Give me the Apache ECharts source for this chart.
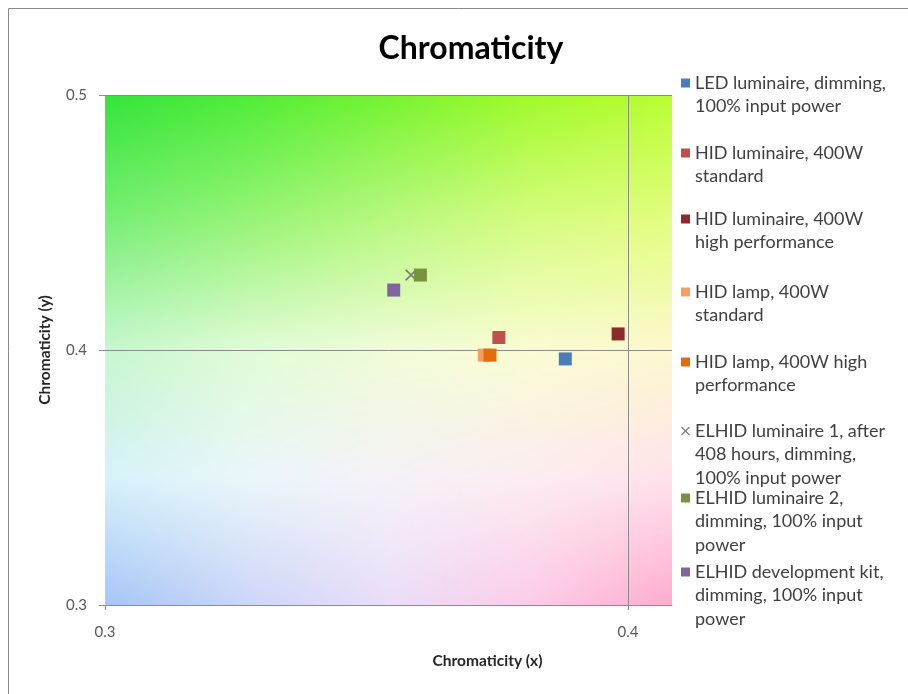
<!DOCTYPE html>
<html>
<head>
<meta charset="utf-8">
<title>Chromaticity</title>
<script src="https://cdn.jsdelivr.net/npm/echarts@6/dist/echarts.min.js"></script>
<style>
  html, body { margin: 0; padding: 0; background: #ffffff; }
  #chart { width: 908px; height: 694px; }
</style>
</head>
<body>
<div id="chart"></div>
<script>
// ---- data ----
const seriesNames = [
  'LED luminaire, dimming,\n100% input power',
  'HID luminaire, 400W\nstandard',
  'HID luminaire, 400W\nhigh performance',
  'HID lamp, 400W\nstandard',
  'HID lamp, 400W high\nperformance',
  'ELHID luminaire 1, after\n408 hours, dimming,\n100% input power',
  'ELHID luminaire 2,\ndimming, 100% input\npower',
  'ELHID development kit,\ndimming, 100% input\npower'
];
const chromaX = [0.3880, 0.3753, 0.3981, 0.3725, 0.3736, 0.3585, 0.3603, 0.3552];
const chromaY = [0.3965, 0.4049, 0.4063, 0.3980, 0.3980, 0.4294, 0.4294, 0.4235];
const xTickLabels = [0.3, 0.4];
const yTickLabels = [0.3, 0.4, 0.5];

// ---- styling ----
const seriesColors = ['#4a7ebb', '#c0504d', '#8b2b2b', '#f5a062', '#e46c0a', '#7f7f7f', '#77933c', '#8064a2'];
const crossPath = 'path://M0,1L1,0L5,4L9,0L10,1L6,5L10,9L9,10L5,6L1,10L0,9L4,5Z';
const seriesSymbols = ['rect', 'rect', 'rect', 'rect', 'rect', crossPath, 'rect', 'rect'];
const FONT = 'Lato, "Open Sans", sans-serif';
const GRID = { left: 105, top: 95, width: 567, height: 510 };
const X_MIN = 0.3, X_MAX = 0.4084, Y_MIN = 0.3, Y_MAX = 0.5;

// legend rows: vertical centre of each entry's first line
const LEGEND_LEFT = 681;
const LEGEND_LINE = 23.5;
const legendFirstLine = [83, 153, 219, 292, 362, 431, 498, 572];

// background tint: 5x5 control colours, top row (y = 0.5) to bottom row (y = 0.3)
const tint = [
  [[52, 228, 58], [80, 236, 56], [118, 243, 48], [160, 250, 44], [186, 253, 50]],
  [[122, 238, 120], [152, 244, 120], [186, 248, 130], [214, 252, 130], [228, 253, 130]],
  [[198, 247, 206], [224, 251, 214], [240, 252, 216], [250, 252, 210], [253, 248, 206]],
  [[214, 242, 250], [234, 246, 250], [246, 242, 248], [252, 236, 242], [255, 226, 236]],
  [[166, 198, 246], [204, 214, 248], [234, 222, 248], [252, 204, 232], [255, 172, 206]]
];

function buildBackdrop(w, h) {
  const canvas = document.createElement('canvas');
  canvas.width = w; canvas.height = h;
  const ctx = canvas.getContext('2d');
  const img = ctx.createImageData(w, h);
  const n = tint.length - 1;
  for (let py = 0; py < h; py++) {
    const gy = py / (h - 1) * n;
    const r0 = Math.min(Math.floor(gy), n - 1), fy = gy - r0;
    for (let px = 0; px < w; px++) {
      const gx = px / (w - 1) * n;
      const c0 = Math.min(Math.floor(gx), n - 1), fx = gx - c0;
      const o = (py * w + px) * 4;
      for (let k = 0; k < 3; k++) {
        const a = tint[r0][c0][k] * (1 - fx) + tint[r0][c0 + 1][k] * fx;
        const b = tint[r0 + 1][c0][k] * (1 - fx) + tint[r0 + 1][c0 + 1][k] * fx;
        img.data[o + k] = Math.round(a * (1 - fy) + b * fy);
      }
      img.data[o + 3] = 255;
    }
  }
  ctx.putImageData(img, 0, 0);
  return canvas;
}

const series = seriesNames.map((name, i) => ({
  name: name,
  type: 'scatter',
  symbol: seriesSymbols[i],
  symbolSize: i === 5 ? 12 : 13,
  itemStyle: { color: seriesColors[i], opacity: 1 },
  emphasis: { disabled: true },
  data: [[chromaX[i], chromaY[i]]]
}));

// one legend per entry; leading blank lines keep the marker beside the first text line
const legends = seriesNames.map((name, i) => {
  const lines = name.split('\n').length;
  return {
    data: [{ name: name, icon: seriesSymbols[i] }],
    orient: 'vertical',
    left: LEGEND_LEFT,
    top: legendFirstLine[i] - (2 * lines - 1) * LEGEND_LINE / 2,
    padding: 0,
    itemWidth: 9,
    itemHeight: 9,
    itemGap: 0,
    selectedMode: false,
    formatter: label => '\n'.repeat(lines - 1) + label,
    textStyle: {
      fontFamily: FONT,
      fontSize: 18,
      color: '#404040',
      lineHeight: LEGEND_LINE
    }
  };
});

const chart = echarts.init(document.getElementById('chart'), null, { renderer: 'canvas' });
chart.setOption({
  animation: false,
  backgroundColor: '#ffffff',
  title: {
    text: 'Chromaticity',
    left: 466,
    top: 28,
    textAlign: 'center',
    textStyle: { fontFamily: FONT, fontSize: 32, fontWeight: 'bold', color: '#000000' }
  },
  legend: legends,
  grid: { left: GRID.left, top: GRID.top, width: GRID.width, height: GRID.height, containLabel: false },
  xAxis: {
    type: 'value',
    min: X_MIN,
    max: X_MAX,
    interval: 0.1,
    name: 'Chromaticity (x)',
    nameLocation: 'middle',
    nameGap: 48,
    nameTextStyle: { fontFamily: FONT, fontSize: 15.5, fontWeight: 'bold', color: '#262626', padding: [0, 0, 0, 198] },
    axisLine: { show: true, onZero: false, lineStyle: { color: '#8c8c8c', width: 1 } },
    axisTick: { show: true, length: 5, lineStyle: { color: '#8c8c8c' }, customValues: xTickLabels },
    axisLabel: { margin: 20, fontFamily: FONT, fontSize: 15, color: '#595959', customValues: xTickLabels,
                 formatter: v => v.toFixed(1) },
    splitLine: { show: true, showMinLine: false, lineStyle: { color: '#8c8c8c', width: 1 } }
  },
  yAxis: {
    type: 'value',
    min: Y_MIN,
    max: Y_MAX,
    interval: 0.1,
    name: 'Chromaticity (y)',
    nameLocation: 'middle',
    nameGap: 52,
    nameTextStyle: { fontFamily: FONT, fontSize: 15.5, fontWeight: 'bold', color: '#262626' },
    axisLine: { show: false },
    axisTick: { show: true, length: 6, lineStyle: { color: '#8c8c8c' }, customValues: yTickLabels },
    axisLabel: { margin: 18, fontFamily: FONT, fontSize: 15, color: '#595959', customValues: yTickLabels,
                 formatter: v => v.toFixed(1) },
    splitLine: { show: true, lineStyle: { color: '#8c8c8c', width: 1 } }
  },
  series: series
});

// plot-area tint and chart frame, placed from the axes' own scale
const topLeft = chart.convertToPixel({ gridIndex: 0 }, [X_MIN, Y_MAX]);
const bottomRight = chart.convertToPixel({ gridIndex: 0 }, [X_MAX, Y_MIN]);
const bw = Math.round(bottomRight[0] - topLeft[0]);
const bh = Math.round(bottomRight[1] - topLeft[1]);
chart.setOption({
  graphic: [
    {
      type: 'image',
      z: -10,
      silent: true,
      x: topLeft[0],
      y: topLeft[1],
      style: { image: buildBackdrop(bw, bh), x: 0, y: 0, width: bw, height: bh }
    },
    {
      type: 'rect',
      z: -20,
      silent: true,
      shape: { x: 8.5, y: 8.5, width: 1000, height: 1000 },
      style: { fill: 'none', stroke: '#8a8a8a', lineWidth: 1 }
    }
  ]
});
</script>
</body>
</html>
